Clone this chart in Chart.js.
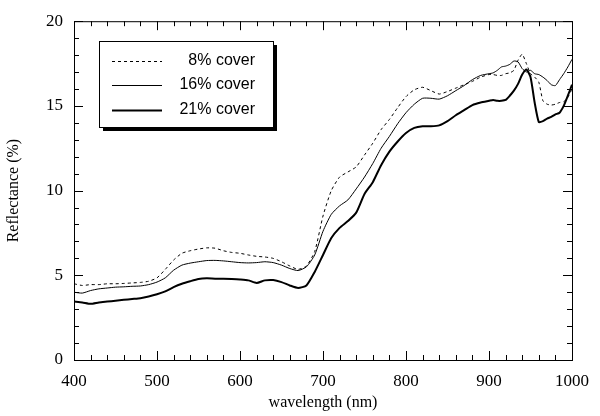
<!DOCTYPE html>
<html>
<head>
<meta charset="utf-8">
<script src="https://cdn.jsdelivr.net/npm/chart.js@4.4.1/dist/chart.umd.min.js"></script>
<style>
  html, body { margin: 0; padding: 0; background: #fff; }
  #wrap { width: 600px; height: 416px; }
</style>
</head>
<body>
<div id="wrap"><canvas id="c" width="600" height="416"></canvas></div>
<script>
wavelengths = [400,410,420,430,440,450,460,470,480,490,500,510,520,530,540,550,560,570,580,590,
  600,610,620,630,640,650,660,670,680,690,700,710,720,730,740,750,760,770,780,790,
  800,810,820,830,840,850,860,870,880,890,900,905,910,915,920,925,930,935,940,945,
  950,955,960,965,970,975,980,985,990,995,1000]

cover8 = [4.5,4.4,4.45,4.45,4.5,4.5,4.52,4.55,4.58,4.65,4.85,5.35,5.9,6.3,6.45,6.55,6.62,6.6,6.45,6.35,
  6.3,6.2,6.12,6.08,6.0,5.8,5.55,5.35,5.55,6.4,8.5,10.0,10.8,11.1,11.4,12.1,12.8,13.6,14.2,14.9,
  15.55,15.95,16.1,15.9,15.7,15.85,16.05,16.25,16.45,16.7,16.85,16.85,16.8,16.8,16.9,16.95,17.1,17.7,18.05,17.5,
  16.9,16.7,16.4,15.3,15.1,15.05,15.1,15.2,15.25,15.5,16.0]

cover16 = [4.0,3.95,4.1,4.2,4.25,4.3,4.32,4.35,4.37,4.45,4.6,4.85,5.3,5.6,5.72,5.8,5.87,5.88,5.85,5.8,
  5.75,5.73,5.75,5.8,5.75,5.6,5.4,5.28,5.5,6.2,7.6,8.6,9.1,9.45,10.1,10.8,11.6,12.5,13.2,13.95,
  14.6,15.1,15.45,15.45,15.4,15.6,15.9,16.2,16.55,16.8,16.9,16.95,17.1,17.3,17.35,17.45,17.65,17.6,17.2,17.0,
  17.1,16.9,16.85,16.7,16.5,16.25,16.2,16.55,16.9,17.3,17.75]

cover21 = [3.45,3.4,3.32,3.4,3.45,3.5,3.55,3.6,3.65,3.75,3.88,4.05,4.3,4.5,4.65,4.78,4.82,4.8,4.8,4.78,
  4.75,4.7,4.55,4.7,4.72,4.6,4.4,4.25,4.4,5.2,6.2,7.2,7.8,8.2,8.7,9.8,10.5,11.5,12.3,12.9,
  13.4,13.7,13.8,13.8,13.85,14.1,14.45,14.75,15.05,15.2,15.3,15.35,15.3,15.3,15.35,15.6,15.9,16.3,16.85,17.15,
  16.7,15.2,14.05,14.1,14.25,14.35,14.5,14.6,15.0,15.6,16.25]

seriesLabels = ['8% cover', '16% cover', '21% cover']

toPoints = arr => arr.map((v, i) => ({x: wavelengths[i], y: v}))

// inward ticks on all four sides, frame and the boxed legend
framePlugin = {
  id: 'frame',
  afterDraw(chart) {
    const ctx = chart.ctx, a = chart.chartArea
    const xs = chart.scales.x, ys = chart.scales.y
    ctx.save()
    ctx.strokeStyle = '#000'
    ctx.lineWidth = 1
    ctx.strokeRect(a.left + 0.5, a.top + 0.5, a.right - a.left, a.bottom - a.top)
    ctx.beginPath()
    for (let v = 400; v <= 1000; v += 20) {
      const px = Math.round(xs.getPixelForValue(v)) + 0.5
      const len = v % 100 === 0 ? 9 : 5
      ctx.moveTo(px, a.bottom); ctx.lineTo(px, a.bottom - len)
      ctx.moveTo(px, a.top); ctx.lineTo(px, a.top + len)
    }
    for (let v = 0; v <= 20; v += 1) {
      const py = Math.round(ys.getPixelForValue(v)) + 0.5
      const len = v % 5 === 0 ? 9 : 5
      ctx.moveTo(a.left, py); ctx.lineTo(a.left + len, py)
      ctx.moveTo(a.right, py); ctx.lineTo(a.right - len, py)
    }
    ctx.stroke()

    // legend box with drop shadow
    const bx = 99, by = 41, bw = 174, bh = 86
    ctx.fillStyle = '#000'
    ctx.fillRect(bx + 4, by + 4, bw, bh)
    ctx.fillStyle = '#fff'
    ctx.fillRect(bx, by, bw, bh)
    ctx.strokeRect(bx + 0.5, by + 0.5, bw, bh)
    const rows = [61, 85, 110]
    ctx.font = '16px "Liberation Sans", Arial, sans-serif'
    ctx.textAlign = 'right'
    ctx.textBaseline = 'middle'
    chart.data.datasets.forEach((ds, i) => {
      ctx.beginPath()
      ctx.setLineDash(ds.borderDash || [])
      ctx.lineWidth = ds.borderWidth
      ctx.moveTo(112, rows[i] + 0.5); ctx.lineTo(162, rows[i] + 0.5)
      ctx.stroke()
      ctx.setLineDash([])
      ctx.fillStyle = '#000'
      ctx.fillText(ds.label, 255, rows[i])
    })
    ctx.restore()
  }
}

serif = '"Liberation Serif", "Times New Roman", serif'

new Chart(document.getElementById('c'), {
  type: 'line',
  data: {
    datasets: [
      {label: seriesLabels[0], data: toPoints(cover8), borderColor: '#000', borderWidth: 1, borderDash: [3, 3]},
      {label: seriesLabels[1], data: toPoints(cover16), borderColor: '#000', borderWidth: 1},
      {label: seriesLabels[2], data: toPoints(cover21), borderColor: '#000', borderWidth: 2}
    ]
  },
  options: {
    responsive: false,
    animation: false,
    elements: {point: {radius: 0}, line: {tension: 0.2}},
    layout: {padding: {top: 17, right: 22, left: 0, bottom: 0}},
    plugins: {legend: {display: false}, tooltip: {enabled: false}},
    scales: {
      x: {
        type: 'linear', min: 400, max: 1000,
        grid: {display: false, drawTicks: false},
        border: {display: false},
        ticks: {stepSize: 100, color: '#000', padding: 11, font: {family: serif, size: 17},
          callback: v => String(v)},
        title: {display: true, text: 'wavelength (nm)', color: '#000', padding: {top: 0}, font: {family: serif, size: 16}},
        afterFit: s => { s.height = 56 }
      },
      y: {
        min: 0, max: 20,
        grid: {display: false, drawTicks: false},
        border: {display: false},
        ticks: {stepSize: 5, color: '#000', padding: 11, font: {family: serif, size: 17},
          callback: v => String(v)},
        title: {display: true, text: 'Reflectance (%)', color: '#000', padding: {bottom: 6}, font: {family: serif, size: 16}},
        afterFit: s => { s.width = 74 }
      }
    }
  },
  plugins: [framePlugin]
})
</script>
</body>
</html>
